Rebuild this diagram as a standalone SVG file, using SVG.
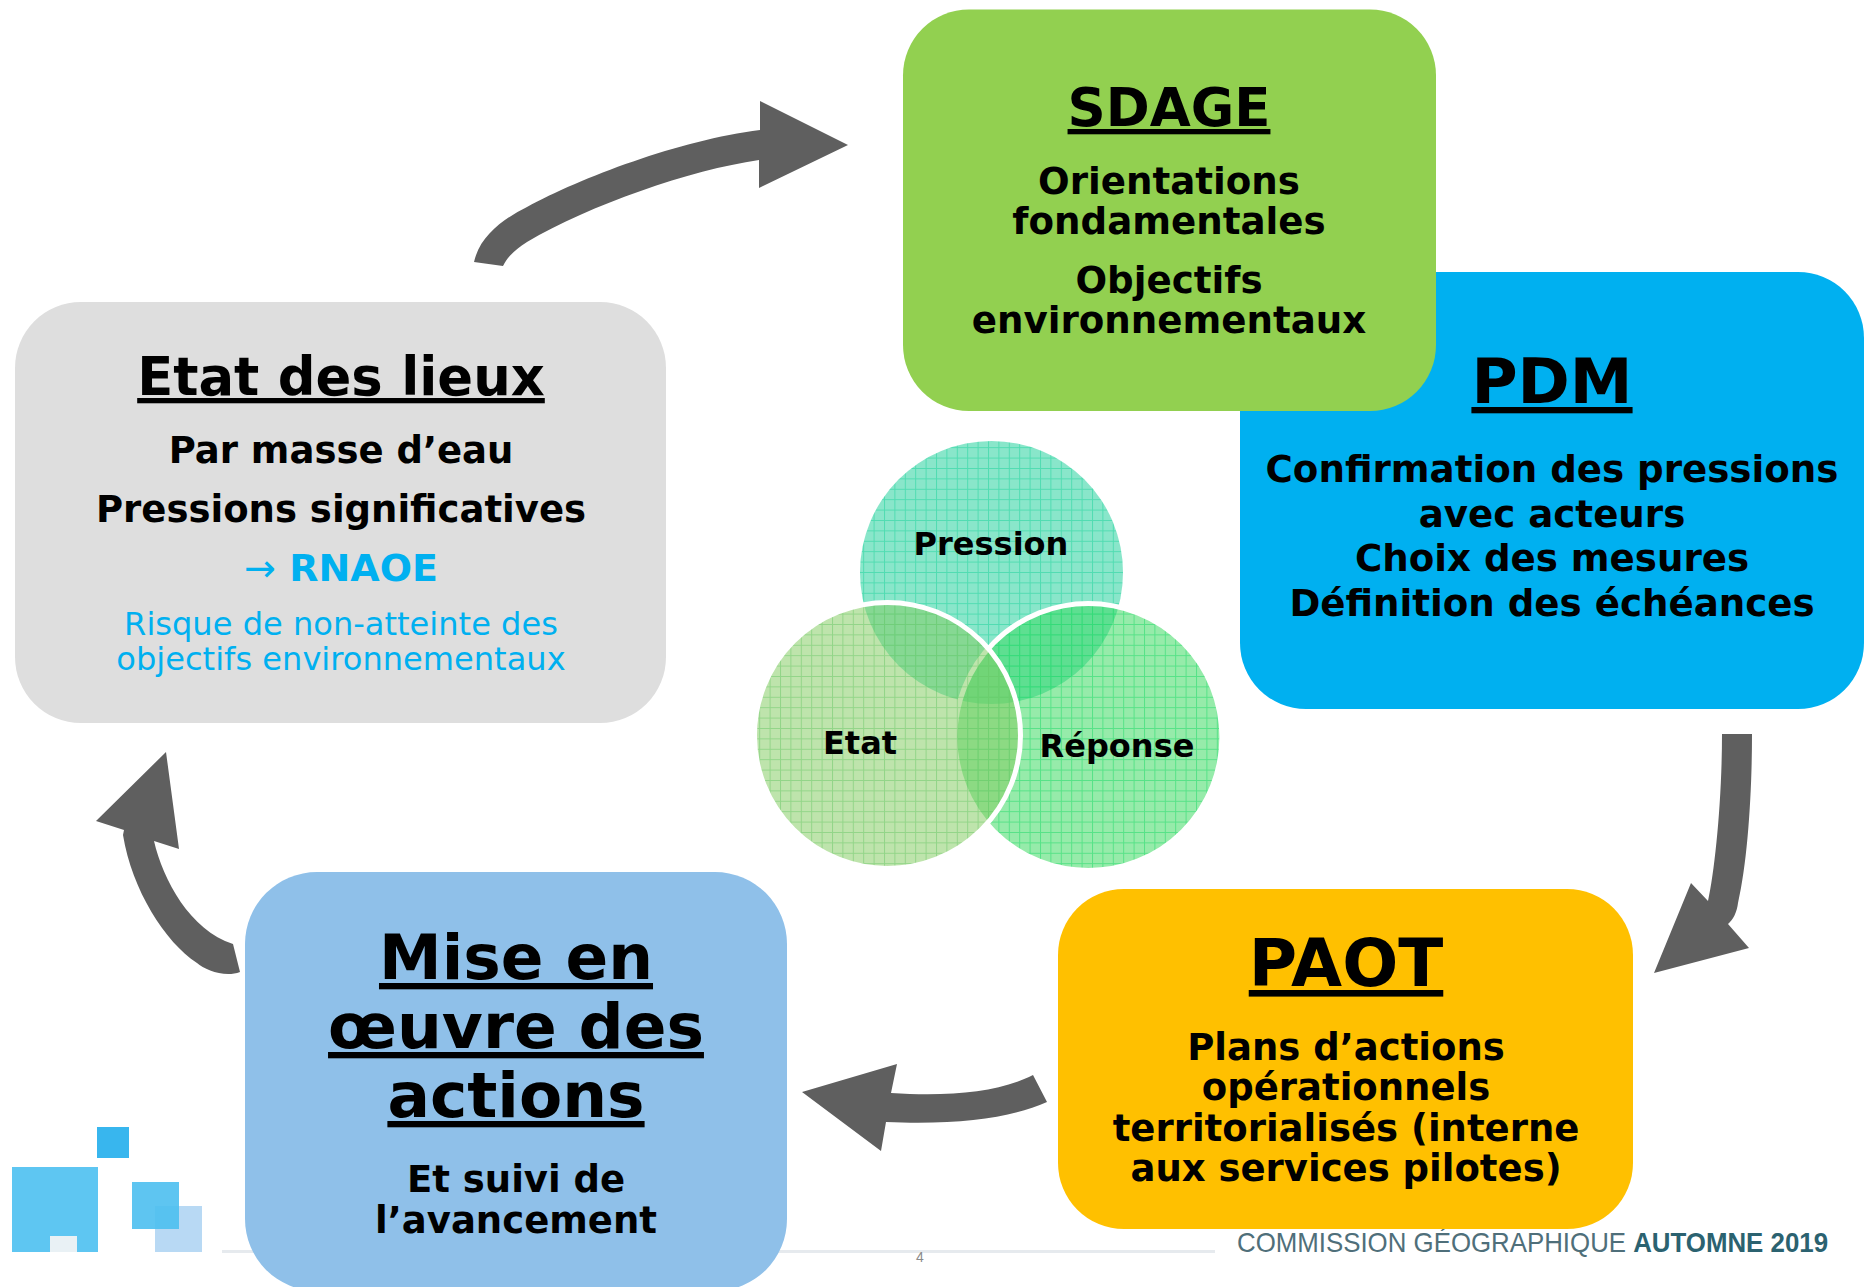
<svg xmlns="http://www.w3.org/2000/svg" width="1868" height="1287" viewBox="0 0 1868 1287">
<style>
text{font-family:"DejaVu Sans","Verdana",sans-serif;text-anchor:middle;fill:#000}
.b{font-weight:700}
.u{font-weight:700;text-decoration:underline}
.arrow{fill:#5f5f5f}
.ln{stroke-width:1;fill:none}
</style>
<defs>
<pattern id="gP" width="10.4" height="10.4" patternUnits="userSpaceOnUse"><rect width="10.4" height="10.4" fill="#14cd96" fill-opacity=".5"/><path d="M0 .5H10.4M.5 0V10.4" stroke="#2ad6a0" stroke-opacity=".6" class="ln"/></pattern>
<pattern id="gE" width="10.4" height="10.4" patternUnits="userSpaceOnUse"><rect width="10.4" height="10.4" fill="#82cb60" fill-opacity=".52"/><path d="M0 .5H10.4M.5 0V10.4" stroke="#74cc70" stroke-opacity=".6" class="ln"/></pattern>
<pattern id="gR" width="10.4" height="10.4" patternUnits="userSpaceOnUse"><rect width="10.4" height="10.4" fill="#36d95c" fill-opacity=".52"/><path d="M0 .5H10.4M.5 0V10.4" stroke="#2cdc70" stroke-opacity=".6" class="ln"/></pattern>
</defs>
<rect width="1868" height="1287" fill="#fff"/>
<g id="footer">
<rect x="222" y="1250" width="993" height="3" fill="#e6eaee"/>
<rect x="97" y="1127" width="32" height="31" fill="#38b6ee"/>
<path d="M12 1167H98V1252H12Z" fill="#5ec6f2"/>
<rect x="50" y="1236" width="27" height="16" fill="#e9f1f5"/>
<rect x="155" y="1206" width="47" height="46" fill="#b8d9f4"/>
<rect x="132" y="1182" width="47" height="47" fill="#4dbff0" fill-opacity=".9"/>
<text x="920" y="1262" font-size="14" style="fill:#8a8a8a;font-family:'Liberation Sans',sans-serif">4</text>
<text x="1237" y="1252" font-size="28" textLength="591" lengthAdjust="spacingAndGlyphs" style="text-anchor:start;fill:#4f6f7a;font-family:'Liberation Sans',sans-serif">COMMISSION GÉOGRAPHIQUE <tspan font-weight="700" style="fill:#2b6270">AUTOMNE 2019</tspan></text>
</g>
<g id="connectors">
<path class="arrow" d="M474 262C480 235 505 218 527 207C580 178 680 140 760 130V101L848 145L759 188V160C690 170 590 205 527 242C515 250 508 256 503 266Z"/>
<path class="arrow" d="M1722 734H1752C1752 790 1748 860 1738 903C1737 912 1733 920 1728 924L1749 948L1654 973L1691 883L1708 901C1715 870 1722 800 1722 734Z"/>
<path class="arrow" d="M1033 1075L1047 1102C1010 1118 960 1125 886 1122L881 1151L802 1092L897 1064L891 1093C950 1097 1000 1092 1033 1075Z"/>
<path class="arrow" d="M240 972C225 978 205 970 197 963C165 942 132 890 123 835L124 830L96 821L166 752L179 849L154 841C163 880 190 930 233 944Z"/>
</g>
<g id="pdm">
<rect x="1240" y="272" width="624" height="437" rx="66" fill="#00b0f0"/>
<text class="u" x="1552" y="403" font-size="63">PDM</text>
<text class="b" x="1552" y="482" font-size="37.2">Confirmation des pressions</text>
<text class="b" x="1552" y="527" font-size="37.2">avec acteurs</text>
<text class="b" x="1552" y="571" font-size="37.2">Choix des mesures</text>
<text class="b" x="1552" y="616" font-size="37.2">Définition des échéances</text>
</g>
<g id="sdage">
<rect x="903" y="9.5" width="533" height="401.5" rx="66" fill="#92d050"/>
<text class="u" x="1169" y="126" font-size="53">SDAGE</text>
<text class="b" x="1169" y="194" font-size="37.2">Orientations</text>
<text class="b" x="1169" y="234" font-size="37.2">fondamentales</text>
<text class="b" x="1169" y="293" font-size="37.2">Objectifs</text>
<text class="b" x="1169" y="333" font-size="37.2">environnementaux</text>
</g>
<g id="etat-des-lieux">
<rect x="15" y="302" width="651" height="421" rx="66" fill="#dedede"/>
<text class="u" x="341" y="395" font-size="52.8">Etat des lieux</text>
<text class="b" x="341" y="463" font-size="37">Par masse d’eau</text>
<text class="b" x="341" y="522" font-size="37">Pressions significatives</text>
<text class="b" x="341" y="581" font-size="38" style="fill:#00b0f0"><tspan font-weight="400">→</tspan> RNAOE</text>
<text x="341" y="635" font-size="32.1" style="fill:#00b0f0">Risque de non-atteinte des</text>
<text x="341" y="670" font-size="32.1" style="fill:#00b0f0">objectifs environnementaux</text>
</g>
<g id="mise-en-oeuvre">
<rect x="245" y="872" width="542" height="419" rx="72" fill="#8fc0e9"/>
<text class="u" x="516" y="979" font-size="63">Mise en</text>
<text class="u" x="516" y="1048" font-size="63">œuvre des</text>
<text class="u" x="516" y="1117" font-size="63">actions</text>
<text class="b" x="516" y="1192" font-size="37">Et suivi de</text>
<text class="b" x="516" y="1233" font-size="37">l’avancement</text>
</g>
<g id="paot">
<rect x="1058" y="889" width="575" height="340" rx="66" fill="#ffc000"/>
<text class="u" x="1346" y="986" font-size="66">PAOT</text>
<text class="b" x="1346" y="1060" font-size="37">Plans d’actions</text>
<text class="b" x="1346" y="1100" font-size="37">opérationnels</text>
<text class="b" x="1346" y="1141" font-size="37">territorialisés (interne</text>
<text class="b" x="1346" y="1181" font-size="37">aux services pilotes)</text>
</g>
<g id="pression">
<circle cx="991.5" cy="572.5" r="131.5" fill="url(#gP)"/>
<text class="b" x="991" y="555" font-size="32">Pression</text>
</g>
<g id="reponse">
<circle cx="1088.4" cy="737" r="133.5" fill="url(#gR)" stroke="#fff" stroke-width="5"/>
<text class="b" x="1117" y="757" font-size="32">Réponse</text>
</g>
<g id="etat">
<circle cx="887.5" cy="735.4" r="133" fill="url(#gE)" stroke="#fff" stroke-width="5"/>
<text class="b" x="860" y="754" font-size="32">Etat</text>
</g>
</svg>
